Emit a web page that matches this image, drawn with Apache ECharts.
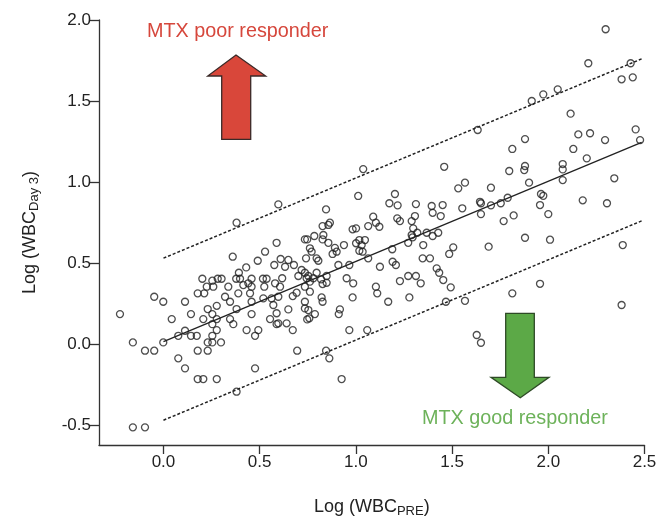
<!DOCTYPE html>
<html>
<head>
<meta charset="utf-8">
<style>
  html, body { margin: 0; padding: 0; background: #fff; }
  #draw-main { width: 661px; height: 516px; }
</style>
<script src="https://cdn.jsdelivr.net/npm/echarts@6/dist/echarts.min.js"></script>
</head>
<body>
<div id="draw-main"></div>
<script>
// Log(WBC_PRE) vs Log(WBC_Day3)
let pointsX = [
    0.597, 0.380, 0.588, 0.528, 0.360, 0.490, 0.609, 0.430, 0.576, 0.392,
    0.202, 0.254, 0.282, 0.302, 0.378, 0.398, 0.458, 0.517, 0.536, 0.225,
    0.259, 0.337, 0.415, 0.441, 0.458, 0.524, 0.580, 0.606, 0.617,
    -0.048, -0.001, 0.112, 0.178, 0.212, 0.320, 0.346, 0.389, 0.450, 0.458,
    0.519, 0.562, 0.571, 0.597, 0.588, 0.597, -0.226, 0.043, 0.143, 0.230,
    0.254, 0.277, 0.207, 0.254, 0.277, 0.346, 0.363, 0.380, 0.458, 0.554,
    0.588, 0.112, 0.277, 0.077, 0.143, 0.173, 0.254, 0.432, 0.493, 0.476,
    -0.001, -0.159, 0.230, 0.254, 0.299, -0.096, -0.048, 0.178, 0.230, 0.077,
    0.112, 0.476, 0.178, 0.207, 0.277, 0.380, -0.159, -0.096,
    1.038, 1.459, 1.532, 1.012, 1.203, 1.174, 1.217, 1.312, 1.394, 1.451,
    1.399, 1.441, 0.845, 1.090, 1.215, 1.229, 1.307, 1.290, 1.104, 1.122,
    1.064, 1.298, 0.865, 0.857, 0.827, 0.983, 1.001, 1.319, 1.368, 1.399,
    1.428, 1.290, 1.295, 0.784, 0.831, 0.827, 0.735, 0.747, 1.018, 1.047,
    1.030, 1.001, 1.272, 1.350, 0.857, 0.938, 0.891, 0.879, 0.900, 0.761,
    0.770, 1.506, 1.485, 1.018, 1.035, 1.189, 0.741, 0.796, 0.805, 1.064,
    1.347, 1.385, 0.649, 0.632, 0.678, 0.909, 0.966, 1.125, 1.191, 1.208,
    1.420, 1.433, 0.718, 0.735, 0.753, 0.796, 0.779, 0.848, 0.701, 0.744,
    0.761, 0.819, 0.848, 0.827, 0.952, 0.986, 1.229, 1.272, 1.312, 1.337,
    1.454, 1.493, 1.104, 0.735,
    0.672, 0.692, 0.761, 0.822, 0.827, 0.983, 1.111, 1.168, 1.278, 1.468,
    0.735, 0.735, 0.753, 0.747, 0.758, 0.649, 0.787, 0.640, 0.672, 0.917,
    0.911, 0.966, 1.059, 0.695, 0.845, 0.862, 0.926,
    2.260, 2.298, 2.208, 2.428, 2.381, 2.439, 2.049, 1.974, 1.914, 2.116,
    1.633, 2.156, 2.217, 1.879, 2.295, 2.454, 2.477,
    1.813, 2.130, 2.200, 1.879, 1.875, 2.075, 2.075, 1.797, 2.075, 2.343,
    1.900, 1.567, 1.702, 1.962, 1.974, 1.789, 1.753, 1.702, 1.645, 1.650,
    1.553, 1.650, 1.768, 1.820, 1.957, 2.000, 2.179, 2.305, 1.690, 1.879,
    2.009, 2.387, 1.957, 1.813, 1.567, 2.381, 1.628, 1.650
];
let pointsY = [
    0.862, 0.749, 0.625, 0.570, 0.539, 0.514, 0.525, 0.473, 0.488, 0.440,
    0.403, 0.391, 0.403, 0.403, 0.403, 0.403, 0.403, 0.403, 0.403, 0.354,
    0.354, 0.354, 0.364, 0.375, 0.354, 0.354, 0.375, 0.354, 0.406,
    0.292, 0.261, 0.261, 0.313, 0.313, 0.292, 0.261, 0.313, 0.313, 0.261,
    0.282, 0.282, 0.241, 0.292, 0.190, 0.128, 0.185, 0.154, 0.185, 0.216,
    0.185, 0.236, 0.154, 0.123, 0.154, 0.154, 0.123, 0.216, 0.185, 0.154,
    0.123, 0.082, 0.086, 0.051, 0.051, 0.051, 0.051, 0.086, 0.086, 0.051,
    0.010, 0.010, 0.010, 0.010, 0.010, -0.041, -0.041, -0.041, -0.041, -0.088,
    -0.150, -0.150, -0.216, -0.216, -0.216, -0.294, -0.514, -0.514,
    1.080, 1.094, 0.961, 0.914, 0.926, 0.869, 0.856, 0.864, 0.852, 0.858,
    0.810, 0.790, 0.831, 0.786, 0.776, 0.759, 0.790, 0.759, 0.749, 0.724,
    0.728, 0.714, 0.749, 0.735, 0.728, 0.708, 0.714, 0.687, 0.687, 0.667,
    0.687, 0.673, 0.659, 0.667, 0.673, 0.646, 0.646, 0.646, 0.642, 0.642,
    0.611, 0.622, 0.625, 0.611, 0.625, 0.611, 0.594, 0.556, 0.570, 0.591,
    0.570, 0.597, 0.556, 0.576, 0.570, 0.585, 0.529, 0.529, 0.514, 0.529,
    0.529, 0.529, 0.519, 0.477, 0.488, 0.488, 0.488, 0.477, 0.508, 0.488,
    0.467, 0.440, 0.457, 0.440, 0.420, 0.440, 0.406, 0.420, 0.420, 0.406,
    0.385, 0.399, 0.378, 0.370, 0.406, 0.375, 0.389, 0.420, 0.420, 0.375,
    0.395, 0.350, 0.354, 0.354,
    0.296, 0.317, 0.323, 0.288, 0.261, 0.288, 0.313, 0.261, 0.288, 0.261,
    0.261, 0.220, 0.210, 0.152, 0.159, 0.214, 0.185, 0.128, 0.086, 0.214,
    0.185, 0.086, 0.086, -0.041, -0.041, -0.088, -0.216,
    2.011, 1.943, 1.733, 1.733, 1.634, 1.646, 1.572, 1.541, 1.500, 1.422,
    1.321, 1.294, 1.301, 1.265, 1.259, 1.325, 1.259,
    1.204, 1.204, 1.146, 1.099, 1.074, 1.111, 1.078, 1.068, 1.012, 1.023,
    0.996, 0.996, 0.965, 0.926, 0.915, 0.903, 0.869, 0.856, 0.878, 0.869,
    0.838, 0.802, 0.759, 0.794, 0.858, 0.802, 0.887, 0.869, 0.601, 0.656,
    0.644, 0.611, 0.372, 0.313, 0.267, 0.241, 0.056, 0.008
];

// regression line and the two prediction bounds
let fitX = [0, 2.485];
let fitY = [0.015, 1.245];
let upperY = [0.53, 1.76];
let lowerY = [-0.47, 0.76];

let xTicks = [0, 0.5, 1.0, 1.5, 2.0, 2.5];
let yTicks = [-0.5, 0, 0.5, 1.0, 1.5, 2.0];

let pair = function (xs, ys) {
    return xs.map(function (x, i) { return [x, ys[i]]; });
};

let myChart = echarts.init(document.getElementById('draw-main'));

let axisColor = '#333';
let fontFamily = '"Liberation Sans", Arial, sans-serif';

let option = {
    backgroundColor: '#fff',
    animation: false,
    grid: { left: 99, right: 16.5, top: 20, bottom: 71, outerBoundsMode: 'none', containLabel: false },
    xAxis: {
        type: 'value',
        min: -0.335,
        max: 2.5,
        name: 'Log (WBC{sub|PRE})',
        nameLocation: 'middle',
        nameGap: 51,
        nameTextStyle: {
            color: '#222', fontSize: 18, fontFamily: fontFamily,
            rich: { sub: { fontSize: 13, fontFamily: fontFamily, color: '#222', padding: [9, 0, 0, 0], verticalAlign: 'bottom' } }
        },
        axisLine: { onZero: false, lineStyle: { color: axisColor, width: 1.3 } },
        axisTick: { customValues: xTicks, length: 9, lineStyle: { color: axisColor, width: 1.3 } },
        axisLabel: {
            customValues: xTicks, margin: 9, color: '#222', fontSize: 17, fontFamily: fontFamily,
            formatter: function (v) { return v.toFixed(1); }
        },
        splitLine: { show: false }
    },
    yAxis: {
        type: 'value',
        min: -0.623,
        max: 2.0,
        name: 'Log (WBC{sub|Day 3})',
        nameLocation: 'middle',
        nameGap: 58,
        nameTextStyle: {
            color: '#222', fontSize: 18, fontFamily: fontFamily,
            rich: { sub: { fontSize: 13, fontFamily: fontFamily, color: '#222', padding: [9, 0, 0, 0], verticalAlign: 'bottom' } }
        },
        axisLine: { onZero: false, lineStyle: { color: axisColor, width: 1.3 } },
        axisTick: { customValues: yTicks, length: 9, lineStyle: { color: axisColor, width: 1.3 } },
        axisLabel: {
            customValues: yTicks, margin: 8, color: '#222', fontSize: 17, fontFamily: fontFamily,
            formatter: function (v) { return v.toFixed(1); }
        },
        splitLine: { show: false }
    },
    series: [
        {
            type: 'scatter',
            data: pair(pointsX, pointsY),
            symbol: 'circle',
            symbolSize: 7,
            itemStyle: { color: 'rgba(0,0,0,0)', borderColor: '#222', borderWidth: 1.3 },
            z: 3
        },
        {
            type: 'line',
            data: pair(fitX, fitY),
            symbol: 'none',
            lineStyle: { color: '#222', width: 1.3 }
        },
        {
            type: 'line',
            data: pair(fitX, upperY),
            symbol: 'none',
            lineStyle: { color: '#222', width: 1.5, type: [3, 2] }
        },
        {
            type: 'line',
            data: pair(fitX, lowerY),
            symbol: 'none',
            lineStyle: { color: '#222', width: 1.5, type: [3, 2] }
        }
    ],
    graphic: [
        {
            type: 'text',
            left: 147, top: 22,
            style: { text: 'MTX poor responder', fill: '#d6473c', fontSize: 19.8, fontFamily: fontFamily }
        },
        {
            type: 'text',
            left: 422, top: 409,
            style: { text: 'MTX good responder', fill: '#6db25a', fontSize: 19.8, fontFamily: fontFamily }
        },
        {
            type: 'polygon',
            shape: { points: [[236, 55], [265.7, 76], [250.7, 76], [250.7, 139.3], [221.7, 139.3], [221.7, 76], [207.7, 76]] },
            style: { fill: '#d9473a', stroke: '#3a2a28', lineWidth: 1.3 }
        },
        {
            type: 'polygon',
            shape: { points: [[505.7, 313.3], [534.3, 313.3], [534.3, 377.3], [549, 377.3], [520.3, 397.7], [491, 377.3], [505.7, 377.3]] },
            style: { fill: '#5ca947', stroke: '#2e4a26', lineWidth: 1.3 }
        }
    ]
};

myChart.setOption(option, true);
</script>
</body>
</html>
